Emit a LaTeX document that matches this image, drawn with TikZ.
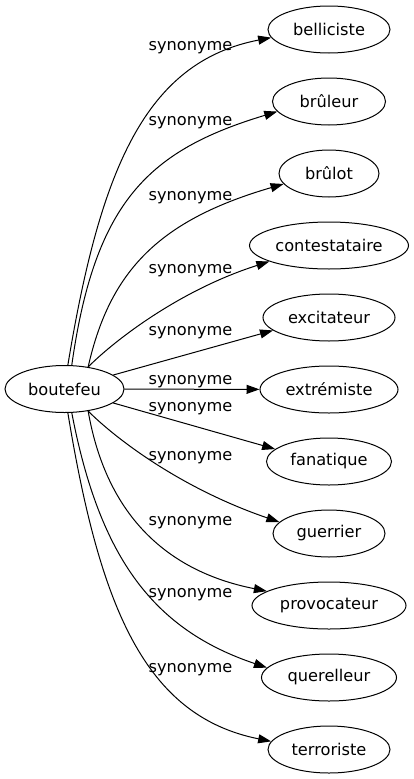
\documentclass[tikz,border=0pt]{standalone}
\usepackage{fontspec}
\setmainfont{DejaVu Sans}
\usetikzlibrary{shapes.geometric,arrows.meta,positioning}

\begin{document}
\begin{tikzpicture}[x=1pt,y=-1pt,->,>={Triangle[length=13pt,width=9pt]},line width=1pt,
  node distance=72pt,
  word/.style={ellipse,draw,inner sep=0pt,minimum height=47pt,font=\fontsize{16.2}{19}\selectfont},
  rel/.style={anchor=base,inner sep=0pt,font=\fontsize{16.2}{19}\selectfont}]
  \useasboundingbox (0,0) rectangle (414,779);
  \node[word,minimum width=119pt] (bou) at (64.5,389) {boutefeu};
  \node[word,minimum width=122pt] (bel) at (329,29.5) {belliciste};
  \node[word,minimum width=113pt] (brl) [below of=bel] {brûleur};
  \node[word,minimum width=100pt] (brt) [below of=brl] {brûlot};
  \node[word,minimum width=159pt] (con) [below of=brt] {contestataire};
  \node[word,minimum width=132pt] (exc) [below of=con] {excitateur};
  \node[word,minimum width=138pt] (ext) [below of=exc] {extrémiste};
  \node[word,minimum width=125pt] (fan) [below of=ext] {fanatique};
  \node[word,minimum width=112pt] (gue) [below of=fan] {guerrier};
  \node[word,minimum width=154pt] (pro) [below of=gue] {provocateur};
  \node[word,minimum width=135pt] (que) [below of=pro] {querelleur};
  \node[word,minimum width=122pt] (ter) [below of=que] {terroriste};

  \draw (bou.82) .. controls (100,170) and (145,62) .. (bel.188);
  \draw (bou.73) .. controls (95,200) and (150,150) .. (brl.191);
  \draw (bou.43) .. controls (110,270) and (160,220) .. (brt.193);
  \draw (bou.43) .. controls (115,340) and (180,290) .. (con.195);
  \draw (bou.16) -- (exc.193);
  \draw (bou) -- (ext);
  \draw (bou.-16) -- (fan.167);
  \draw (bou.-43) .. controls (115,438) and (180,488) .. (gue.167);
  \draw (bou.-43) .. controls (105,508) and (160,570) .. (pro.167);
  \draw (bou.-73) .. controls (100,560) and (155,630) .. (que.171);
  \draw (bou.-82) .. controls (100,608) and (145,716) .. (ter.172);

  \node[rel] (s1) at (190.5,50) {synonyme};
  \node[rel] (s2) at (190.5,125) {synonyme};
  \node[rel] (s3) at (190.5,200) {synonyme};
  \node[rel] (s4) at (190.5,273.5) {synonyme};
  \node[rel] (s5) at (190.5,335.5) {synonyme};
  \node[rel] (s6) at (190.5,384.3) {synonyme};
  \node[rel] (s7) at (190.5,411.7) {synonyme};
  \node[rel] (s8) at (190.5,460.5) {synonyme};
  \node[rel] (s9) at (190.5,525) {synonyme};
  \node[rel] (s10) at (190.5,597) {synonyme};
  \node[rel] (s11) at (190.5,672.5) {synonyme};
\end{tikzpicture}
\end{document}
